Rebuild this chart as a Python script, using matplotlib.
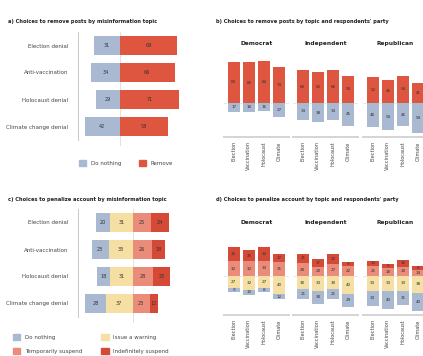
import numpy as np
import matplotlib.pyplot as plt
from matplotlib.patches import Patch

# topic-level shares (%)
topics = ["Election denial", "Anti-vaccination", "Holocaust denial", "Climate change denial"]
remove_nothing = [31, 34, 29, 42]
remove_remove = [69, 66, 71, 58]
penal_nothing = [20, 23, 18, 28]
penal_warning = [31, 33, 31, 37]
penal_temp = [25, 26, 28, 23]
penal_indef = [24, 18, 23, 12]

# party breakdown, rows = Democrat, Independent, Republican
parties = ["Democrat", "Independent", "Republican"]
short_topics = ["Election", "Vaccination", "Holocaust", "Climate"]
party_remove = [[83, 82, 84, 73], [66, 62, 66, 55], [52, 46, 54, 41]]
party_nothing = [[17, 18, 16, 27], [34, 38, 34, 45], [48, 54, 46, 59]]
party_pen_nothing = [[9, 10, 8, 12], [21, 30, 21, 29], [33, 40, 31, 40]]
party_pen_warning = [[27, 32, 27, 40], [30, 33, 30, 40], [33, 33, 33, 38]]
party_pen_temp = [[32, 32, 33, 31], [28, 20, 27, 22], [21, 18, 20, 14]]
party_pen_indef = [[32, 26, 32, 17], [21, 17, 22, 9], [13, 9, 16, 8]]

C_NOTHING = "#a9b9d1"
C_REMOVE = "#de5640"
C_WARN = "#f6dfa2"
C_TEMP = "#ea8c79"
C_INDEF = "#d44a36"
TXT = "#333333"

W, H = 423, 356
fig = plt.figure(figsize=(W / 100, H / 100), dpi=100)


def px_axes(x0, y0, x1, y1):
    return fig.add_axes([x0 / W, 1 - y1 / H, (x1 - x0) / W, (y1 - y0) / H])


def label_segments(ax, xs, starts, vals, horizontal, size):
    for x, s, v in zip(xs, starts, vals):
        if horizontal:
            ax.text(s + v / 2, x, f"{v}", ha="center", va="center", fontsize=size, color=TXT)
        else:
            ax.text(x, s + v / 2, f"{v}", ha="center", va="center", fontsize=size, color=TXT)


def diverging(ax, left, right, xlim):
    """left/right: lists of (values, colour), ordered outward from zero"""
    y = np.arange(len(topics))
    start = np.zeros(len(topics))
    for vals, col in left:
        vals = np.array(vals)
        ax.barh(y, -vals, left=-start, color=col, height=0.74, lw=0)
        label_segments(ax, y, -start - vals, vals, True, 3.6)
        start = start + vals
    start = np.zeros(len(topics))
    for vals, col in right:
        vals = np.array(vals)
        ax.barh(y, vals, left=start, color=col, height=0.74, lw=0)
        label_segments(ax, y, start, vals, True, 3.6)
        start = start + vals
    ax.axvline(0, color="#dddddd", lw=0.6, ymin=-0.05, zorder=0, clip_on=False)
    ax.set_xlim(*xlim)
    ax.set_ylim(len(topics) - 0.5, -0.5)
    ax.set_yticks(y)
    ax.set_yticklabels(topics, fontsize=4, color="#444444")
    ax.tick_params(length=0, pad=7)
    ax.set_xticks([])
    for s in ["top", "right", "bottom"]:
        ax.spines[s].set_visible(False)
    ax.spines["left"].set_color("#c8c8c8")
    ax.spines["left"].set_linewidth(0.7)


def facets(y0, y1, ylim, up, down):
    xs = [(224, 289), (293, 358), (363, 428)]
    for p, (x0, x1) in enumerate(xs):
        ax = px_axes(x0, y0, x1, y1)
        pos = np.arange(len(short_topics))
        start = np.zeros(len(short_topics))
        for vals, col in up:
            v = np.array(vals[p])
            ax.bar(pos, v, bottom=start, color=col, width=0.8, lw=0)
            label_segments(ax, pos, start, v, False, 3)
            start = start + v
        start = np.zeros(len(short_topics))
        for vals, col in down:
            v = np.array(vals[p])
            ax.bar(pos, -v, bottom=-start, color=col, width=0.8, lw=0)
            label_segments(ax, pos, -start - v, v, False, 3)
            start = start + v
        ax.axhline(0, color="#e4e4e4", lw=0.6, zorder=0)
        ax.set_xlim(-0.65, 3.65)
        ax.set_ylim(*ylim)
        ax.set_yticks([])
        ax.set_xticks(pos)
        ax.set_xticklabels(short_topics, rotation=90, fontsize=3.6, color="#444444",
                           ha="center", va="top")
        ax.tick_params(length=0, pad=3)
        for s in ["top", "right", "left"]:
            ax.spines[s].set_visible(False)
        ax.spines["bottom"].set_color("#d4d4d4")
        ax.spines["bottom"].set_linewidth(1.4)
        ax.set_title(parties[p], fontsize=4.2, fontweight="bold", pad=3.5, color="#222222")


# a) remove posts by topic
ax_a = px_axes(78, 32, 200, 140)
diverging(ax_a, [(remove_nothing, C_NOTHING)], [(remove_remove, C_REMOVE)], (-50, 96))

# c) penalize account by topic
ax_c = px_axes(78, 209, 200, 317)
diverging(ax_c, [(penal_warning, C_WARN), (penal_nothing, C_NOTHING)],
          [(penal_temp, C_TEMP), (penal_indef, C_INDEF)], (-75, 92))

# b) remove posts by party
facets(50, 137, (-68, 106), [(party_remove, C_REMOVE)], [(party_nothing, C_NOTHING)])

# d) penalize account by party
facets(229, 315, (-87, 104), [(party_pen_temp, C_TEMP), (party_pen_indef, C_INDEF)],
       [(party_pen_warning, C_WARN), (party_pen_nothing, C_NOTHING)])

title_kw = dict(fontsize=3.7, fontweight="bold", color="#222222", va="center")
fig.text(8 / W, 1 - 21 / H, "a) Choices to remove posts by misinformation topic", **title_kw)
fig.text(216 / W, 1 - 21 / H, "b) Choices to remove posts by topic and respondents' party", **title_kw)
fig.text(8 / W, 1 - 199 / H, "c) Choices to penalize account by misinformation topic", **title_kw)
fig.text(216 / W, 1 - 199 / H, "d) Choices to penalize account by topic and respondents' party", **title_kw)

leg_kw = dict(frameon=False, fontsize=4, handlelength=1.3, handleheight=1.3,
              handletextpad=0.8, borderpad=0, borderaxespad=0, labelcolor="#444444")
fig.legend([Patch(color=C_NOTHING), Patch(color=C_REMOVE)], ["Do nothing", "Remove"],
           loc="center left", bbox_to_anchor=(79 / W, 1 - 163 / H), ncol=2,
           columnspacing=3.2, **leg_kw)
fig.legend([Patch(color=C_NOTHING), Patch(color=C_TEMP), Patch(color=C_WARN), Patch(color=C_INDEF)],
           ["Do nothing", "Temporarily suspend", "Issue a warning", "Indefinitely suspend"],
           loc="upper left", bbox_to_anchor=(13 / W, 1 - 334 / H), ncol=2,
           columnspacing=3.5, labelspacing=1.5, **leg_kw)

fig.savefig("out.png", dpi=100, facecolor="white")
